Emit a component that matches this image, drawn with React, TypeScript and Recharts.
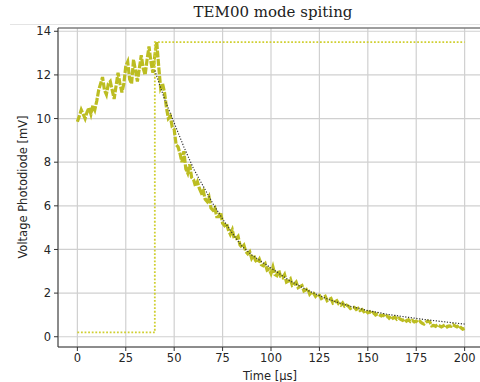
import { LineChart, Line, XAxis, YAxis, CartesianGrid, ReferenceLine } from "recharts";

// photodiode trace, sampled every 1 µs from 0 to 200
const traceValues = [
  9.85, 10.1, 10.4, 10.2, 10.0, 10.3, 10.5, 10.2, 10.6, 10.4,
  10.8, 11.3, 11.6, 11.9, 11.3, 11.1, 11.6, 11.7, 11.3, 10.9,
  11.5, 12.1, 11.6, 11.2, 11.6, 12.4, 12.6, 11.8, 11.6, 12.7,
  12.2, 11.7, 12.3, 12.9, 12.3, 12.0, 12.7, 13.3, 12.6, 12.1,
  12.9, 13.5, 12.4, 11.4, 11.6, 11.2, 10.5, 10.0, 10.1, 9.6,
  9.5, 8.8, 8.7, 8.4, 8.0, 8.5, 7.7, 7.5, 7.9, 7.3,
  7.2, 6.9, 7.1, 6.8, 6.6, 6.7, 6.3, 6.2, 6.4, 5.9,
  5.8, 5.9, 5.5, 5.5, 5.7, 5.2, 5.1, 5.2, 4.9, 4.7,
  4.9, 4.5, 4.5, 4.6, 4.2, 4.1, 4.2, 3.9, 3.8, 3.9,
  3.6, 3.75, 3.5, 3.4, 3.55, 3.3, 3.25, 3.35, 3.05, 3.1,
  2.9, 3.2, 2.85, 2.8, 3.05, 2.75, 2.7, 2.85, 2.5, 2.55,
  2.65, 2.35, 2.4, 2.5, 2.25, 2.3, 2.35, 2.1, 2.15, 2.2,
  1.95, 2.05, 2.0, 1.85, 1.95, 1.9, 1.75, 1.8, 1.85, 1.65,
  1.7, 1.75, 1.55, 1.6, 1.65, 1.5, 1.45, 1.55, 1.4, 1.45,
  1.4, 1.3, 1.35, 1.35, 1.25, 1.3, 1.2, 1.25, 1.15, 1.2,
  1.1, 1.15, 1.05, 1.1, 1.0, 1.05, 1.0, 0.95, 1.0, 0.9,
  0.95, 0.85, 0.95, 0.85, 0.9, 0.8, 0.85, 0.8, 0.75, 0.82,
  0.72, 0.78, 0.7, 0.75, 0.68, 0.72, 0.65, 0.7, 0.62, 0.58,
  0.66, 0.72, 0.68, 0.5, 0.52, 0.48, 0.55, 0.5, 0.45, 0.5,
  0.55, 0.45, 0.5, 0.48, 0.55, 0.5, 0.45, 0.52, 0.42, 0.35,
  0.38,
];

// trigger / gate signal
const gateTimes = [0, 40, 40, 200];
const gateValues = [0.2, 0.2, 13.5, 13.5];

// exponential decay fit
const fitTimes = [40, 45, 50, 55, 60, 65, 70, 75, 80, 85, 90, 95, 100, 110, 120, 130, 140, 150, 160, 170, 180, 190, 200];
const fitValues = [12.2, 10.9, 9.8, 8.7, 7.7, 6.9, 6.1, 5.4, 4.75, 4.15, 3.75, 3.45, 3.15, 2.55, 2.08, 1.7, 1.42, 1.2, 1.03, 0.9, 0.78, 0.68, 0.58];

const xTicks = [0, 25, 50, 75, 100, 125, 150, 175, 200];
const yTicks = [0, 2, 4, 6, 8, 10, 12, 14];

const trace = traceValues.map((v, i) => ({ t: i, v }));
const gate = gateTimes.map((t, i) => ({ t, v: gateValues[i] }));
const fit = fitTimes.map((t, i) => ({ t, v: fitValues[i] }));

const tickStyle = { fill: "#262626", fontSize: 11.5, fontFamily: "DejaVu Sans" };

export default function App() {
  return (
    <div
      style={{
        position: "fixed",
        left: 0,
        top: 0,
        width: 480,
        height: 382,
        overflow: "hidden",
        background: "#fff",
      }}
    >
      <div
        style={{
          position: "absolute",
          left: 0,
          width: 546,
          top: 3,
          textAlign: "center",
          fontFamily: "DejaVu Serif",
          fontSize: 15,
          color: "#222",
        }}
      >
        TEM00 mode spiting
      </div>
      <div style={{ position: "absolute", left: 10, right: 0, top: 24, height: 1, background: "#e4e4e4" }} />
      <div
        style={{
          position: "absolute",
          left: 23,
          top: 187,
          transform: "translate(-50%, -50%) rotate(-90deg)",
          whiteSpace: "nowrap",
          fontFamily: "DejaVu Sans",
          fontSize: 11.5,
          color: "#262626",
        }}
      >
        Voltage Photodiode [mV]
      </div>
      <div
        style={{
          position: "absolute",
          left: 270,
          top: 376,
          transform: "translate(-50%, -50%)",
          whiteSpace: "nowrap",
          fontFamily: "DejaVu Sans",
          fontSize: 11.5,
          color: "#262626",
        }}
      >
        Time [µs]
      </div>
      <div style={{ position: "absolute", left: 0, top: 0 }}>
        <LineChart width={500} height={382} margin={{ top: 28, right: 16, left: 0, bottom: 0 }}>
          <CartesianGrid stroke="#d0d0d0" strokeWidth={1.2} />
          <XAxis
            type="number"
            dataKey="t"
            domain={[-10, 210]}
            ticks={xTicks}
            allowDataOverflow
            height={35}
            tick={tickStyle}
            tickSize={4}
            tickMargin={3}
            stroke="#333"
          />
          <YAxis
            type="number"
            dataKey="v"
            domain={[-0.47, 14.15]}
            ticks={yTicks}
            allowDataOverflow
            width={58}
            tick={tickStyle}
            tickSize={4}
            tickMargin={3}
            stroke="#333"
          />
          <ReferenceLine y={14.15} stroke="#555" strokeWidth={1} />
          <Line
            data={trace}
            dataKey="v"
            type="linear"
            stroke="#bcbd22"
            strokeWidth={3.2}
            strokeDasharray="7 1.5"
            dot={false}
            isAnimationActive={false}
          />
          <Line
            data={gate}
            dataKey="v"
            type="linear"
            stroke="#cfcf30"
            strokeWidth={1.8}
            strokeDasharray="1.8 1.8"
            dot={false}
            isAnimationActive={false}
          />
          <Line
            data={fit}
            dataKey="v"
            type="linear"
            stroke="#333"
            strokeWidth={1.2}
            strokeDasharray="1.2 1.6"
            dot={false}
            isAnimationActive={false}
          />
        </LineChart>
      </div>
    </div>
  );
}
